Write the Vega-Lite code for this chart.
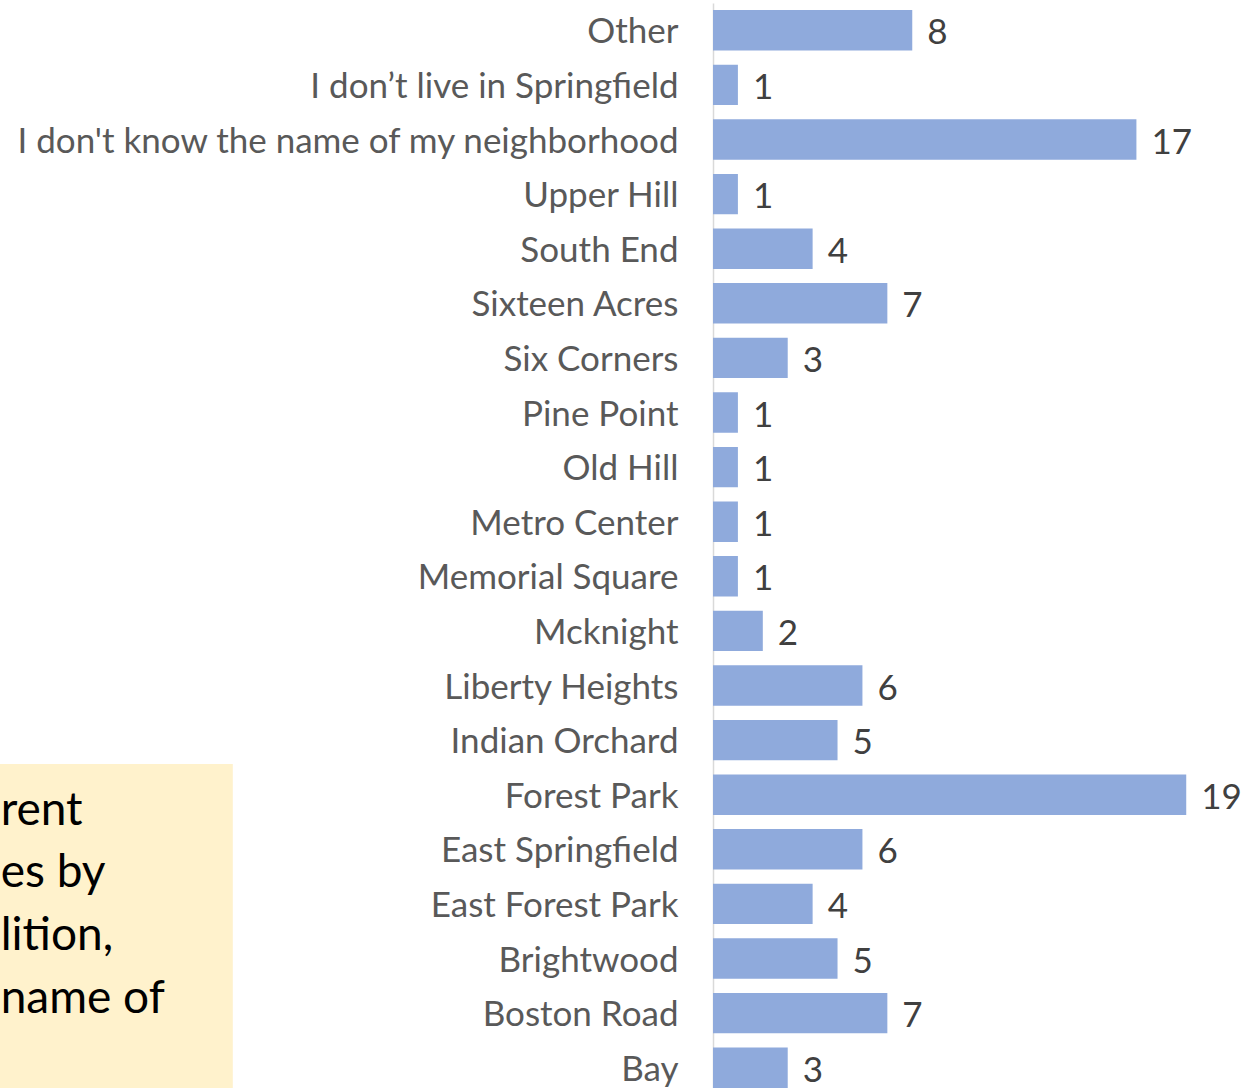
{
  "$schema": "https://vega.github.io/schema/vega-lite/v6.json",
  "autosize": {"type": "none"},
  "padding": {"left": 713, "top": 3, "right": 0, "bottom": 0},
  "width": 535,
  "height": 1092,
  "background": "white",
  "config": {"view": {"stroke": null}, "font": "Lato"},
  "layer": [
    {
      "data": {
        "values": [
          {"neighborhood": "Other", "count": 8},
          {"neighborhood": "I don’t live in Springfield", "count": 1},
          {"neighborhood": "I don't know the name of my neighborhood", "count": 17},
          {"neighborhood": "Upper Hill", "count": 1},
          {"neighborhood": "South End", "count": 4},
          {"neighborhood": "Sixteen Acres", "count": 7},
          {"neighborhood": "Six Corners", "count": 3},
          {"neighborhood": "Pine Point", "count": 1},
          {"neighborhood": "Old Hill", "count": 1},
          {"neighborhood": "Metro Center", "count": 1},
          {"neighborhood": "Memorial Square", "count": 1},
          {"neighborhood": "Mcknight", "count": 2},
          {"neighborhood": "Liberty Heights", "count": 6},
          {"neighborhood": "Indian Orchard", "count": 5},
          {"neighborhood": "Forest Park", "count": 19},
          {"neighborhood": "East Springfield", "count": 6},
          {"neighborhood": "East Forest Park", "count": 4},
          {"neighborhood": "Brightwood", "count": 5},
          {"neighborhood": "Boston Road", "count": 7},
          {"neighborhood": "Bay", "count": 3}
        ]
      },
      "encoding": {
        "y": {
          "field": "neighborhood",
          "type": "nominal",
          "sort": null,
          "scale": {"paddingInner": 0.26, "paddingOuter": 0.13},
          "axis": {
            "title": null,
            "domainColor": "#D9D9D9",
            "domainWidth": 1.5,
            "ticks": false,
            "labelPadding": 35,
            "labelOffset": 2,
            "labelFontSize": 35,
            "labelColor": "#595959",
            "labelFont": "Lato",
            "labelLimit": 1000
          }
        },
        "x": {
          "field": "count",
          "type": "quantitative",
          "scale": {"domain": [0, 21.48], "nice": false},
          "axis": null
        }
      },
      "layer": [
        {"mark": {"type": "bar", "color": "#8FAADC"}},
        {
          "mark": {"type": "text", "align": "left", "baseline": "middle", "dx": 15, "dy": 3, "fontSize": 35, "color": "#404040"},
          "encoding": {"text": {"field": "count", "type": "quantitative"}}
        }
      ]
    },
    {
      "data": {"values": [{}]},
      "layer": [
        {
          "mark": {"type": "rect", "color": "#FFF2CC"},
          "encoding": {
            "x": {"datum": -29.5, "type": "quantitative", "scale": {"domain": [0, 21.48], "nice": false}, "axis": null},
            "x2": {"datum": -19.28},
            "y": {"datum": 13.94, "type": "quantitative", "scale": {"domain": [0, 20], "reverse": true, "nice": false, "zero": false}, "axis": null},
            "y2": {"datum": 20}
          }
        },
        {
          "mark": {"type": "text", "text": ["rent", "es by", "lition,", "name of"], "align": "left", "baseline": "alphabetic", "fontSize": 46, "lineHeight": 62.7, "color": "#000000"},
          "encoding": {
            "x": {"datum": -28.6, "type": "quantitative", "scale": {"domain": [0, 21.48], "nice": false}, "axis": null},
            "y": {"datum": 15.05, "type": "quantitative", "scale": {"domain": [0, 20], "reverse": true, "nice": false, "zero": false}, "axis": null}
          }
        }
      ]
    }
  ],
  "resolve": {"scale": {"y": "independent"}}
}
